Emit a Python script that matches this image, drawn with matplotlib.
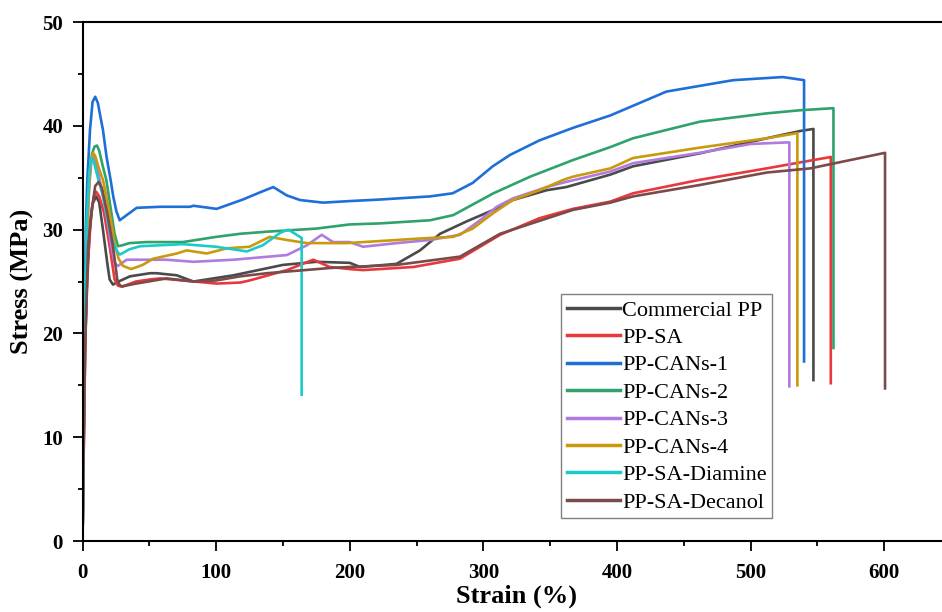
import matplotlib
matplotlib.use("Agg")
import matplotlib.pyplot as plt
from matplotlib.ticker import MultipleLocator

# stress-strain curves
commercial_x = [0, 1, 2, 3.5, 5.4, 7.5, 10.3, 12.5, 15.3, 18.5, 20.3, 22.8, 27, 35.5, 50.5, 55.5, 70.5,
                83, 113, 150, 175, 200, 207.7, 235, 252.6, 267.6, 287.6, 307.5, 322, 347.5, 362,
                395, 412, 462, 512, 537, 547, 547]
commercial_y = [0, 10, 19, 25, 30, 32.5, 33.2, 32.6, 30, 26.8, 25.2, 24.7, 25.0, 25.5, 25.8, 25.8,
                25.6, 25.0, 25.6, 26.6, 26.9, 26.8, 26.4, 26.7, 28.0, 29.6, 30.8, 31.9, 32.85, 33.8,
                34.1, 35.3, 36.1, 37.35, 38.8, 39.5, 39.7, 15.5]

sa_x = [0, 1, 2, 3.5, 6.6, 8.5, 10.3, 12.5, 16.1, 20.3, 24, 26.5, 29.5, 40, 50.5, 58, 75.4, 100.4,
        118, 125, 153, 172.7, 185, 200, 210, 247.6, 282.5, 297.5, 312.5, 342, 367, 395, 412, 462,
        512, 560, 560]
sa_y = [0, 10, 19, 26, 31.6, 33.2, 33.65, 33.2, 31.6, 28.4, 25.2, 24.6, 24.5, 25.0, 25.2, 25.3, 25.1,
        24.8, 24.9, 25.1, 26.1, 27.1, 26.4, 26.2, 26.1, 26.4, 27.2, 28.35, 29.5, 31.1, 32.0, 32.7,
        33.5, 34.8, 35.9, 37.0, 15.2]

cans1_x = [0, 1, 2.4, 3.6, 5.6, 7.5, 9.5, 11.5, 13.5, 15.3, 18, 21, 23, 25.3, 27.8, 40.5, 58, 80.5,
           83, 100.4, 120, 133, 142.8, 152.8, 162.8, 180, 200, 222.7, 260, 277, 292, 307, 320,
           342, 367, 395, 437, 487, 524, 540, 540]
cans1_y = [0, 12, 30, 34.8, 39.6, 42.3, 42.8, 42.2, 40.8, 39.6, 37, 34.8, 33.2, 31.8, 30.9, 32.1,
           32.2, 32.2, 32.3, 32.0, 32.9, 33.6, 34.1, 33.3, 32.85, 32.6, 32.75, 32.9, 33.2, 33.5,
           34.5, 36.1, 37.2, 38.6, 39.8, 41.0, 43.3, 44.4, 44.7, 44.4, 17.3]

cans2_x = [0, 1, 2, 3.2, 5, 7.1, 9, 10.8, 12.5, 15, 17.8, 21.6, 24, 26.5, 30, 35, 48, 75, 100, 118,
           138, 175, 200, 222.7, 260, 277.5, 307.5, 335, 367, 395, 412, 462, 512, 537, 562, 562]
cans2_y = [0, 12, 23, 30, 35, 37.3, 38, 38.1, 37.6, 36.2, 34.8, 31.6, 29.6, 28.4, 28.5, 28.7, 28.8,
           28.8, 29.3, 29.6, 29.8, 30.1, 30.5, 30.6, 30.9, 31.4, 33.5, 35.1, 36.7, 37.95, 38.8,
           40.4, 41.2, 41.5, 41.7, 18.6]

cans3_x = [0, 1, 2, 3.2, 5, 6.5, 7.9, 9.5, 12, 15.3, 19, 22, 24, 26.5, 33, 63, 83, 113, 153, 168, 179,
           187.5, 200, 210, 235, 260, 282.5, 297.5, 310, 322, 347.5, 362, 395, 412, 462, 500, 527,
           529, 529]
cans3_y = [0, 12, 22, 29, 34, 36.5, 37.0, 36.6, 35.3, 33.3, 30.5, 28, 26.8, 26.5, 27.1, 27.1, 26.9,
           27.1, 27.55, 28.5, 29.5, 28.8, 28.8, 28.35, 28.7, 29.0, 29.5, 30.9, 32.2, 33.0, 34.1,
           34.6, 35.6, 36.4, 37.4, 38.25, 38.4, 38.4, 14.9]

cans4_x = [0, 1, 2, 3.2, 5, 6.5, 7.9, 9.5, 12, 15.3, 20.3, 24.5, 27, 30.3, 36.5, 45, 53, 70.5, 78, 93,
           108, 125, 140, 153, 168, 198, 222.7, 260, 277.5, 292, 307.5, 322, 342, 360, 367, 395,
           412, 462, 512, 535, 535]
cans4_y = [0, 12, 22, 29, 34.5, 36.8, 37.4, 37.1, 36, 34.8, 31.6, 28.4, 27.2, 26.5, 26.2, 26.6, 27.2,
           27.7, 28.0, 27.7, 28.2, 28.35, 29.3, 29.0, 28.7, 28.7, 28.9, 29.2, 29.3, 30.1, 31.6,
           32.85, 33.8, 34.8, 35.1, 35.9, 36.9, 37.9, 38.8, 39.3, 15.0]

diamine_x = [0, 1, 2, 3.2, 5, 6.6, 8.5, 11.5, 15.3, 20.3, 23.5, 26.5, 28, 35, 43, 75, 100, 123, 135,
             148, 154, 164, 164]
diamine_y = [0, 13, 24, 31, 35.5, 36.9, 36.5, 35, 33.2, 30, 28.5, 27.8, 27.6, 28.1, 28.4, 28.6,
             28.35, 27.9, 28.5, 29.7, 30.0, 29.2, 14.1]

decanol_x = [0, 1, 2, 4.2, 6.6, 9.5, 12.1, 14.5, 18.5, 22.8, 26, 28, 30.3, 40, 63, 83, 100, 118, 138,
             185, 200, 235, 282.5, 312.5, 367, 395, 412, 462, 512, 544.6, 574.5, 600.6, 600.6]
decanol_y = [0, 10, 19, 28.4, 31.6, 34.2, 34.6, 34, 31.6, 28.4, 25.2, 24.6, 24.55, 24.8, 25.3, 25.0,
             25.1, 25.5, 25.8, 26.3, 26.4, 26.6, 27.4, 29.6, 31.9, 32.6, 33.2, 34.3, 35.5, 35.9,
             36.7, 37.4, 14.7]

labels = ["Commercial PP", "PP-SA", "PP-CANs-1", "PP-CANs-2", "PP-CANs-3", "PP-CANs-4",
          "PP-SA-Diamine", "PP-SA-Decanol"]
colors = ["#4a4a4a", "#e8383b", "#1f6fd8", "#2fa36b", "#b07ade", "#c99a0c", "#1ccaca", "#7b4a4a"]

plt.rcParams['font.family'] = ['Liberation Serif', 'DejaVu Serif']

fig = plt.figure( figsize=(9.42, 6.12), dpi=100 )
ax = fig.add_axes( [0.0876, 0.116, 0.922, 0.848] )

curves = [( commercial_x, commercial_y ), ( sa_x, sa_y ), ( cans1_x, cans1_y ),
          ( cans2_x, cans2_y ), ( cans3_x, cans3_y ), ( cans4_x, cans4_y ),
          ( diamine_x, diamine_y ), ( decanol_x, decanol_y )]
for ( xs, ys ), lab, col in zip( curves, labels, colors ) :
    ax.plot( xs, ys, '-', color=col, lw=1.9, label=lab, solid_joinstyle='round' )

ax.set_xlim( 0, 650 )
ax.set_ylim( 0, 50 )
ax.xaxis.set_major_locator( MultipleLocator( 100 ) )
ax.xaxis.set_minor_locator( MultipleLocator( 50 ) )
ax.yaxis.set_major_locator( MultipleLocator( 10 ) )
ax.yaxis.set_minor_locator( MultipleLocator( 5 ) )
ax.tick_params( which='major', direction='out', length=7, width=1.3, labelsize=15 )
ax.tick_params( axis='x', which='major', pad=9 )
ax.tick_params( axis='y', which='major', pad=7 )
ax.tick_params( which='minor', direction='out', length=3.5, width=1.3 )
for lab in ax.get_xticklabels() + ax.get_yticklabels() :
    lab.set_fontweight( 'bold' )
for sp in ax.spines.values() :
    sp.set_linewidth( 1.5 )

ax.set_xlabel( "Strain (%)", fontsize=19, fontweight='bold', labelpad=1 )
ax.set_ylabel( "Stress (MPa)", fontsize=19, fontweight='bold', labelpad=6 )

leg = ax.legend( loc='lower left', bbox_to_anchor=(0.551, 0.044), borderaxespad=0,
                 fontsize=16, handlelength=2.4, handletextpad=0.1, labelspacing=0.31,
                 borderpad=0.25, fancybox=False, framealpha=1 )
leg.get_frame().set_edgecolor( '#808080' )
leg.get_frame().set_linewidth( 1.0 )
for line in leg.get_lines() :
    line.set_linewidth( 2.5 )

fig.savefig( "out.png", dpi=100 )
